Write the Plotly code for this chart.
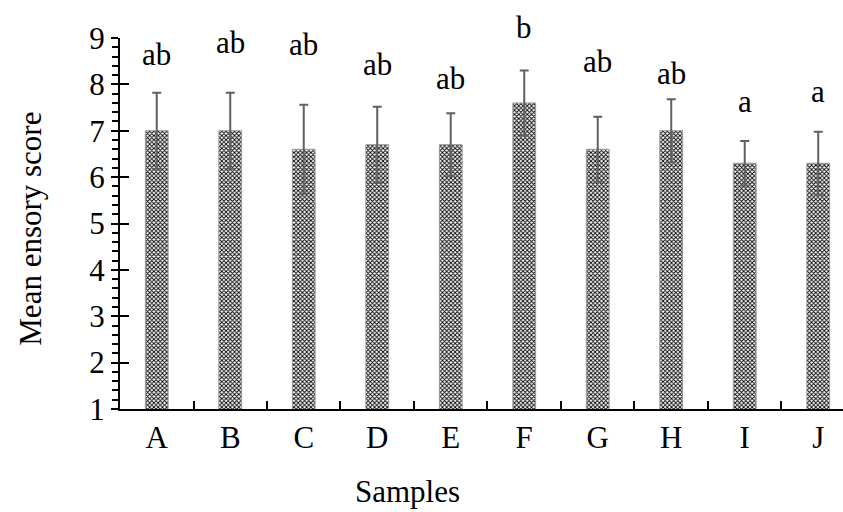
import plotly.graph_objects as go

samples = ["A", "B", "C", "D", "E", "F", "G", "H", "I", "J"]
mean_scores = [7.0, 7.0, 6.6, 6.7, 6.7, 7.6, 6.6, 7.0, 6.3, 6.3]
std_err = [0.82, 0.82, 0.96, 0.82, 0.68, 0.70, 0.70, 0.68, 0.48, 0.68]
letters = ["ab", "ab", "ab", "ab", "ab", "b", "ab", "ab", "a", "a"]
letter_y = [8.64, 8.90, 8.86, 8.43, 8.12, 9.22, 8.49, 8.23, 7.63, 7.84]
y_ticks = [1, 2, 3, 4, 5, 6, 7, 8, 9]
Y_MIN, Y_MAX = 1, 9

FONT = "Liberation Serif, Times New Roman, serif"
FS = 31

fig = go.Figure()
fig.add_trace(go.Bar(
    x=samples, y=mean_scores, width=0.31,
    marker=dict(color="white",
                line=dict(color="#9a9a9a", width=1),
                pattern=dict(shape="x", fgcolor="black", bgcolor="white",
                             size=3, solidity=0.5, fillmode="replace")),
    error_y=dict(type="data", array=std_err, visible=True,
                 color="#606060", thickness=2, width=4.5),
    showlegend=False,
))
# invisible trace to keep overlay axis drawn
fig.add_trace(go.Scatter(x=samples, y=mean_scores, yaxis="y2", mode="markers",
                         marker=dict(opacity=0), showlegend=False, hoverinfo="skip"))

for s, lab, ly in zip(samples, letters, letter_y):
    fig.add_annotation(x=s, xref="x", y=(ly - Y_MIN) / (Y_MAX - Y_MIN), yref="paper",
                       text=lab, showarrow=False,
                       font=dict(family=FONT, size=FS, color="black"),
                       xanchor="center", yanchor="middle")

# axis titles
fig.add_annotation(x=0.397, y=-0.222, xref="paper", yref="paper", text="Samples",
                   showarrow=False, xanchor="center", yanchor="middle",
                   font=dict(family=FONT, size=FS, color="black"))
fig.add_annotation(x=-0.125, y=0.485, xref="paper", yref="paper", text="Mean ensory score",
                   textangle=-90, showarrow=False, xanchor="center", yanchor="middle",
                   font=dict(family=FONT, size=FS, color="black"))

fig.update_layout(
    width=843, height=512,
    margin=dict(l=120, r=0, t=38, b=103),
    paper_bgcolor="white", plot_bgcolor="white",
    font=dict(family=FONT, size=FS, color="black"),
    bargap=0.69,
    xaxis=dict(type="category", range=[-0.5, 9.337],
               showline=True, linecolor="black", linewidth=2,
               ticks="inside", tickson="boundaries", ticklen=8, tickwidth=2,
               tickcolor="black", showgrid=False, zeroline=False,
               tickfont=dict(family=FONT, size=FS)),
    yaxis=dict(range=[Y_MIN, Y_MAX], tickvals=y_ticks,
               showline=True, linecolor="black", linewidth=2,
               ticks="outside", ticklen=7, tickwidth=2, tickcolor="black",
               minor=dict(dtick=0.2, ticks="outside", ticklen=6, tickwidth=1.5,
                          tickcolor="black", showgrid=False),
               showgrid=False, zeroline=False,
               tickfont=dict(family=FONT, size=FS)),
    yaxis2=dict(range=[Y_MIN, Y_MAX], overlaying="y", side="left", anchor="x",
                tickvals=y_ticks, showticklabels=False,
                ticks="inside", ticklen=9, tickwidth=2, tickcolor="black",
                showgrid=False, zeroline=False, showline=False),
)

fig.write_html("out.html")
